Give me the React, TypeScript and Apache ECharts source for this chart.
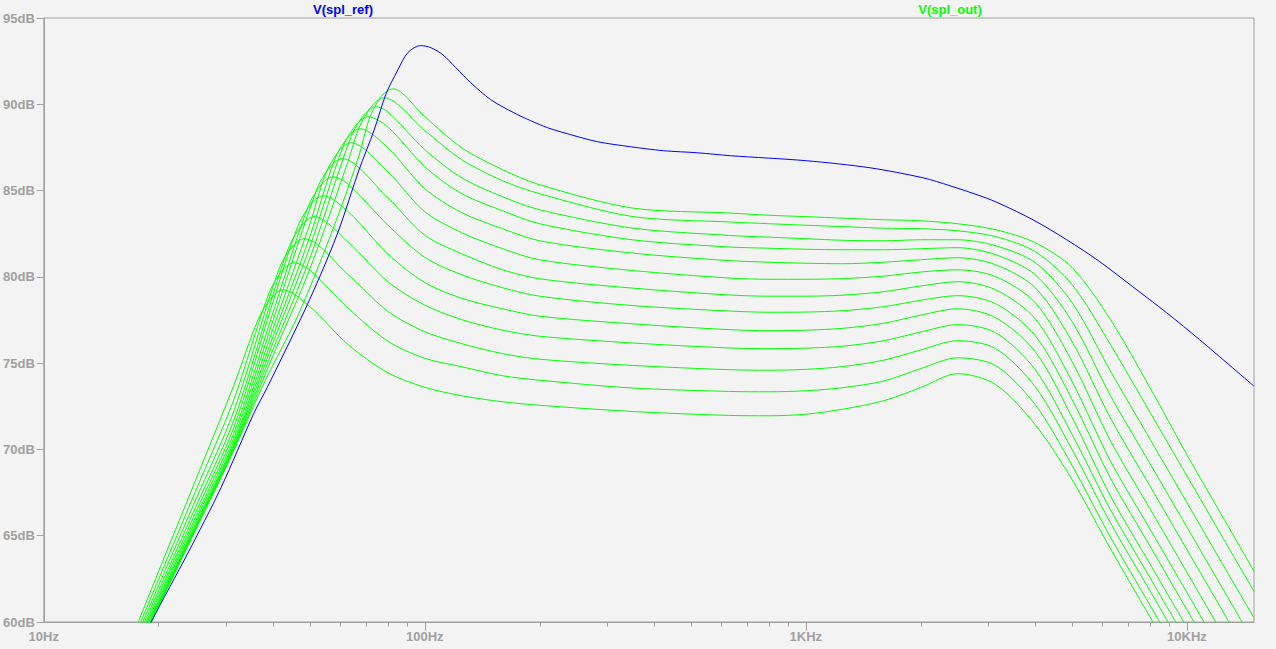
import React, { useEffect, useRef } from 'react';
import * as echarts from 'echarts';

// ---- axis ticks / labels ----
const xLabelValues = [10, 100, 1000, 10000];
const xTickLabels = ['10Hz', '100Hz', '1KHz', '10KHz'];
const xMajorTicks = [100, 1000, 10000];
const xMinorTicks = [20, 30, 40, 50, 60, 70, 80, 90, 200, 300, 400, 500, 600, 700, 800, 900, 2000, 3000, 4000, 5000, 6000, 7000, 8000, 9000];
const xMin = 10;
const xMax = 15000;
const yMin = 60;
const yMax = 95;
const yStep = 5;

// ---- V(spl_ref) : [Hz, dB] ----
const splRef: [number, number][] = [
  [16, 56.3], [19.15, 60.0], [23.9, 64.0], [29.2, 67.8], [35.6, 72.1], [38.56, 73.58], [47.3, 77.6], [52.5, 79.8],
  [59.2, 82.6], [67.2, 86.2], [73.6, 88.5], [79.1, 90.6], [85.0, 92.0], [90.3, 93.0], [97.6, 93.4], [103.7, 93.28],
  [111.5, 92.87], [120.6, 92.12], [132.0, 91.25], [148.9, 90.27], [171.2, 89.51], [189.6, 89.05], [210.1, 88.64],
  [241.3, 88.24], [284, 87.83], [346.6, 87.54], [423, 87.31], [519, 87.19], [634, 87.02], [1002, 86.73], [1474, 86.32],
  [2030, 85.74], [2389, 85.28], [2915, 84.64], [3231, 84.24], [3943, 83.31], [4838, 82.15], [5906, 80.88], [7206, 79.43],
  [8848, 77.92], [10797, 76.36], [14955, 73.69],
];

// ---- V(spl_out) family : [Hz, dB] ----
const splOut1: [number, number][] = [
  [16, 56.44], [20, 60.88], [25, 65.31], [31.5, 69.93], [38.22, 74.04], [45.93, 77.52], [53.42, 80.99], [60.26, 84.01],
  [67.17, 87.02], [71.35, 89.11], [76.71, 90.44], [82.45, 90.9], [100, 89.28], [125, 87.48], [160, 86.21], [200, 85.34],
  [350, 83.99], [630, 83.7], [800, 83.57], [1000, 83.49], [1250, 83.4], [1600, 83.31], [2000, 83.25], [2500, 83.08],
  [3150, 82.73], [4000, 81.98], [5000, 80.53], [6300, 77.52], [8000, 73.58], [10000, 69.69], [12500, 65.98], [15000, 62.94],
];
const splOut2: [number, number][] = [
  [16, 56.46], [20, 60.91], [25, 65.35], [31.5, 69.98], [40, 75.46], [50, 80.49], [63, 86.74], [67.17, 88.64],
  [73.09, 89.98], [78.11, 90.38], [100, 88.47], [125, 86.79], [160, 85.57], [200, 84.82], [350, 83.5], [630, 83.18],
  [800, 83.08], [1000, 82.99], [1250, 82.91], [1600, 82.82], [2000, 82.79], [2500, 82.67], [3150, 82.33], [4000, 81.46],
  [5000, 79.54], [6300, 76.08], [8000, 72.15], [10000, 68.47], [12500, 64.78], [15000, 61.77],
];
const splOut3: [number, number][] = [
  [16, 56.48], [20, 60.95], [25, 65.41], [31.5, 70.06], [40, 75.82], [50, 81.11], [64.02, 88.12], [69.65, 89.45],
  [74.42, 89.86], [80, 89.56], [100, 87.37], [125, 85.74], [160, 84.64], [200, 83.89], [350, 82.83], [630, 82.4],
  [800, 82.3], [1000, 82.21], [1250, 82.12], [1600, 82.09], [2000, 82.15], [2500, 82.15], [3150, 81.8], [4000, 80.82],
  [5000, 78.5], [6300, 74.54], [8000, 70.6], [10000, 66.92], [12500, 63.23], [15000, 60.24],
];
const splOut4: [number, number][] = [
  [16, 56.51], [20, 61.0], [25, 65.48], [31.5, 70.16], [40, 76.21], [50, 81.78], [60.99, 87.54], [66.37, 88.87],
  [70.92, 89.28], [80, 88.68], [100, 86.38], [125, 84.82], [160, 83.83], [200, 83.08], [350, 82.15], [630, 81.73],
  [800, 81.66], [1000, 81.6], [1250, 81.57], [1600, 81.57], [2000, 81.63], [2500, 81.69], [3150, 81.28], [4000, 80.12],
  [5000, 77.4], [6300, 73.12], [8000, 69.18], [10000, 65.5], [12500, 61.82], [15000, 58.81],
];
const splOut5: [number, number][] = [
  [16, 56.55], [20, 61.06], [25, 65.57], [31.5, 70.27], [40, 76.58], [50, 82.38], [58.12, 86.85], [63.25, 88.18],
  [67.58, 88.58], [80, 87.48], [100, 85.11], [125, 83.72], [160, 82.79], [200, 82.09], [350, 81.38], [630, 80.94],
  [800, 80.85], [1000, 80.79], [1250, 80.76], [1600, 80.85], [2000, 80.99], [2500, 81.11], [3150, 80.7], [4000, 79.37],
  [5000, 76.24], [6300, 71.82], [8000, 67.88], [10000, 64.2], [12500, 60.52], [15000, 57.51],
];
const splOut6: [number, number][] = [
  [16, 56.59], [20, 61.14], [25, 65.68], [31.5, 70.42], [40, 77.02], [50, 83.11], [55.05, 86.03], [59.9, 87.37],
  [64.02, 87.77], [80, 86.08], [100, 83.77], [125, 82.56], [160, 81.63], [200, 80.99], [350, 80.37], [630, 79.93],
  [800, 79.86], [1000, 79.86], [1250, 79.9], [1600, 80.04], [2000, 80.28], [2500, 80.41], [3150, 80.01], [4000, 78.5],
  [5000, 75.08], [6300, 70.5], [8000, 66.56], [10000, 62.88], [12500, 59.19],
];
const splOut7: [number, number][] = [
  [16, 56.66], [20, 61.27], [25, 65.86], [31.5, 70.64], [40, 77.5], [52.14, 85.11], [56.74, 86.44], [60.62, 86.85],
  [80, 84.57], [100, 82.41], [125, 81.34], [160, 80.41], [200, 79.89], [350, 79.35], [630, 78.95], [800, 78.88],
  [1000, 78.88], [1250, 78.94], [1600, 79.14], [2000, 79.47], [2500, 79.72], [3150, 79.25], [4000, 77.57], [5000, 73.92],
  [6300, 69.33], [8000, 65.39], [10000, 61.71], [12500, 58.02],
];
const splOut8: [number, number][] = [
  [16, 56.74], [20, 61.41], [25, 66.06], [31.5, 70.91], [40, 77.96], [49.37, 84.06], [53.74, 85.4], [57.42, 85.8],
  [63, 85.36], [80, 83.0], [100, 81.13], [125, 80.12], [160, 79.37], [200, 78.88], [350, 78.34], [630, 78.02],
  [800, 77.95], [1000, 77.96], [1250, 78.04], [1600, 78.27], [2000, 78.64], [2500, 78.91], [3150, 78.44], [4000, 76.59],
  [5000, 72.88], [6300, 68.34], [8000, 64.4], [10000, 60.71], [12500, 57.02],
];
const splOut9: [number, number][] = [
  [16, 56.85], [20, 61.59], [25, 66.32], [31.5, 71.25], [40, 78.59], [46.49, 82.96], [50.59, 84.3], [54.07, 84.7],
  [63, 83.77], [80, 81.32], [100, 79.67], [125, 78.76], [160, 78.15], [200, 77.72], [350, 77.28], [630, 76.94],
  [800, 76.88], [1000, 76.91], [1250, 77.02], [1600, 77.31], [2000, 77.78], [2500, 78.15], [3150, 77.63], [4000, 75.66],
  [5000, 71.84], [6300, 67.31], [8000, 63.37], [10000, 59.69],
];
const splOut10: [number, number][] = [
  [16, 56.98], [20, 61.81], [25, 66.63], [31.5, 71.66], [40, 78.99], [44.03, 81.75], [47.9, 83.08], [51.2, 83.49],
  [63, 82.0], [80, 79.72], [100, 78.36], [125, 77.52], [160, 76.91], [200, 76.56], [350, 76.17], [630, 75.88],
  [800, 75.84], [1000, 75.87], [1250, 75.98], [1600, 76.3], [2000, 76.8], [2500, 77.23], [3150, 76.76], [4000, 74.62],
  [5000, 70.85], [6300, 66.51], [8000, 62.57], [10000, 58.89],
];
const splOut11: [number, number][] = [
  [16, 57.14], [20, 62.1], [25, 67.04], [31.5, 72.19], [41.46, 80.47], [45.1, 81.8], [48.2, 82.21], [63, 80.12],
  [80, 78.0], [100, 76.82], [125, 76.13], [160, 75.55], [200, 75.23], [350, 74.87], [630, 74.62], [800, 74.59],
  [1000, 74.64], [1250, 74.8], [1600, 75.17], [2000, 75.76], [2500, 76.3], [3150, 75.84], [4000, 73.63], [5000, 69.98],
  [6300, 65.75], [8000, 61.81], [10000, 58.12],
];
const splOut12: [number, number][] = [
  [16, 57.35], [20, 62.46], [25, 67.56], [31.5, 72.86], [39.03, 79.08], [42.47, 80.41], [45.37, 80.82], [50, 80.37],
  [63, 78.17], [80, 76.27], [100, 75.28], [125, 74.79], [160, 74.27], [200, 74.01], [350, 73.56], [630, 73.36],
  [800, 73.34], [1000, 73.4], [1250, 73.58], [1600, 73.96], [2000, 74.68], [2500, 75.31], [3150, 74.85], [4000, 72.59],
  [5000, 69.06], [6300, 64.92], [8000, 60.97], [10000, 57.29],
];
const splOut13: [number, number][] = [
  [16, 57.61], [20, 62.91], [25, 68.19], [31.5, 73.69], [36.52, 77.52], [39.74, 78.85], [42.47, 79.25], [50, 78.26],
  [63, 76.06], [80, 74.44], [100, 73.6], [125, 73.11], [160, 72.76], [200, 72.56], [350, 72.2], [630, 71.97],
  [800, 71.95], [1000, 72.04], [1250, 72.33], [1600, 72.82], [2000, 73.58], [2500, 74.39], [3150, 73.75], [4000, 71.43],
  [5000, 68.24], [6300, 64.25], [8000, 60.3], [10000, 56.65],
];

const splOutCurves = [
  splOut1, splOut2, splOut3, splOut4, splOut5, splOut6, splOut7,
  splOut8, splOut9, splOut10, splOut11, splOut12, splOut13,
];

const REF_COLOR = '#0000ff';
const OUT_COLOR = '#00ff00';
const AXIS_GRAY = '#a0a0a0';
const FONT_FAMILY = '"Liberation Sans", Arial, Helvetica, sans-serif';

export default function App() {
  const ref = useRef<HTMLDivElement>(null);

  useEffect(() => {
    if (!ref.current) return;
    const chart = echarts.init(ref.current, null, { renderer: 'svg' });
    const labelFont = {
      fontFamily: FONT_FAMILY,
      fontWeight: 'bold' as const,
      fontSize: 13,
      color: AXIS_GRAY,
    };
    const lineGray = { color: AXIS_GRAY, width: 1 };

    const series: any[] = splOutCurves.map((d) => ({
      type: 'line',
      name: 'V(spl_out)',
      data: d,
      showSymbol: false,
      symbol: 'none',
      smooth: 0.3,
      clip: true,
      silent: true,
      lineStyle: { color: OUT_COLOR, width: 1 },
      itemStyle: { color: OUT_COLOR },
    }));
    series.push({
      type: 'line',
      name: 'V(spl_ref)',
      data: splRef,
      showSymbol: false,
      symbol: 'none',
      smooth: 0.3,
      clip: true,
      silent: true,
      lineStyle: { color: REF_COLOR, width: 1 },
      itemStyle: { color: REF_COLOR },
    });

    const titleTexts: any[] = [
      {
        id: 'title-ref',
        type: 'text',
        x: 343,
        y: 9,
        style: {
          text: 'V(spl_ref)',
          fill: REF_COLOR,
          font: `bold 13px ${FONT_FAMILY}`,
          textAlign: 'center',
          textVerticalAlign: 'middle',
          align: 'center',
          verticalAlign: 'middle',
        },
      },
      {
        id: 'title-out',
        type: 'text',
        x: 950,
        y: 9,
        style: {
          text: 'V(spl_out)',
          fill: OUT_COLOR,
          font: `bold 13px ${FONT_FAMILY}`,
          textAlign: 'center',
          textVerticalAlign: 'middle',
          align: 'center',
          verticalAlign: 'middle',
        },
      },
    ];

    chart.setOption({
      animation: false,
      backgroundColor: '#f3f3f3',
      grid: {
        left: 42,
        top: 18,
        right: 22,
        bottom: 27,
        show: true,
        borderColor: AXIS_GRAY,
        borderWidth: 1,
        backgroundColor: 'transparent',
        containLabel: false,
      },
      xAxis: {
        type: 'log',
        logBase: 10,
        min: xMin,
        max: xMax,
        position: 'bottom',
        axisLine: { show: true, lineStyle: lineGray },
        axisTick: { show: false },
        axisLabel: {
          show: true,
          customValues: xLabelValues,
          margin: 8,
          ...labelFont,
          formatter: (v: number) => xTickLabels[Math.round(Math.log10(v)) - 1] ?? '',
        },
        splitLine: { show: false },
        minorTick: { show: false },
      },
      yAxis: {
        type: 'value',
        min: yMin,
        max: yMax,
        interval: yStep,
        axisLine: { show: true, lineStyle: lineGray },
        axisTick: { show: true, length: 7, lineStyle: lineGray },
        axisLabel: { margin: 9, ...labelFont, formatter: '{value}dB' },
        splitLine: { show: false },
      },
      graphic: titleTexts,
      series,
    });

    // x-axis ticks placed through the chart's own log scale
    const yAxisPx = chart.convertToPixel({ yAxisIndex: 0 }, yMin) as number;
    const tickDefs = [
      ...xMajorTicks.map((v) => ({ v, len: 8 })),
      ...xMinorTicks.map((v) => ({ v, len: 4 })),
    ];
    const tickEls = tickDefs.map((t, i) => {
      const px = Math.round(chart.convertToPixel({ xAxisIndex: 0 }, t.v) as number) + 0.5;
      const y0 = Math.round(yAxisPx) + 0.5;
      return {
        id: 'xtick-' + i,
        type: 'line',
        silent: true,
        shape: { x1: px, y1: y0, x2: px, y2: y0 + t.len },
        style: { stroke: AXIS_GRAY, lineWidth: 1 },
      };
    });
    chart.setOption({ graphic: [...titleTexts, ...tickEls] });

    return () => {
      chart.dispose();
    };
  }, []);

  return (
    <div
      ref={ref}
      style={{ position: 'fixed', left: 0, top: 0, width: 1276, height: 649, background: '#f3f3f3' }}
    />
  );
}
